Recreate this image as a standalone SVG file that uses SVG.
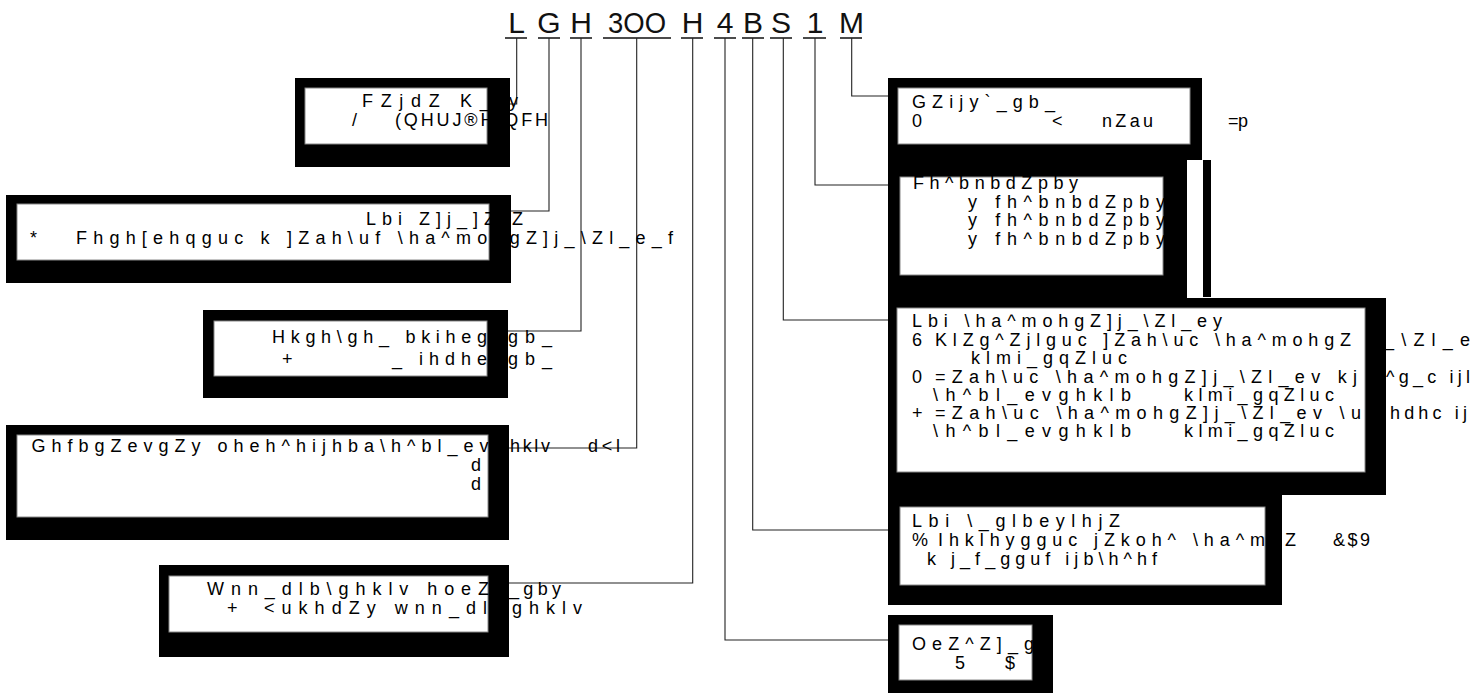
<svg xmlns="http://www.w3.org/2000/svg" width="1476" height="697" viewBox="0 0 1476 697">
<style>
.bg{fill:#000}
.in{fill:#fff;stroke:#888;stroke-width:1}
.t{font-family:"Liberation Sans Narrow","Liberation Sans",Arial,sans-serif;font-size:18px;fill:#000}
.h{font-family:"Liberation Sans Narrow","Liberation Sans",Arial,sans-serif;font-size:30px;fill:#111;text-anchor:middle}
.u{stroke:#111;stroke-width:1.4;fill:none}
.c{stroke:#222;stroke-width:1.1;fill:none}
</style>
<rect width="1476" height="697" fill="#fff"/>
<g id="header">
<text class="h" x="516.5" y="33">L</text>
<text class="h" x="549" y="33">G</text>
<text class="h" x="581" y="33">H</text>
<text class="h" x="637" y="33" textLength="58" lengthAdjust="spacingAndGlyphs">3OO</text>
<text class="h" x="692.5" y="33">H</text>
<text class="h" x="725" y="33">4</text>
<text class="h" x="753" y="33">B</text>
<text class="h" x="781" y="33">S</text>
<text class="h" x="815" y="33">1</text>
<text class="h" x="851.5" y="33">M</text>
<path class="u" d="M505 38H527M538 38H560M570 38H592M603 38H671M681 38H703M714 38H736M742 38H764M770 38H792M803 38H826M840 38H862"/>
</g>
<g id="connectors">
<path class="c" d="M516.7 38V104H510"/>
<path class="c" d="M549 38V211H511"/>
<path class="c" d="M581 38V331H508"/>
<path class="c" d="M636.7 38V448H509"/>
<path class="c" d="M692.7 38V583H509"/>
<path class="c" d="M725 38V640H888"/>
<path class="c" d="M752.7 38V530H888"/>
<path class="c" d="M783.3 38V320H888"/>
<path class="c" d="M815 38V185H888"/>
<path class="c" d="M851.7 38V96H888"/>
</g>
<g id="box-L">
<rect class="bg" x="295" y="78" width="215" height="89"/>
<rect class="in" x="305" y="88" width="182" height="56"/>
<text class="t" x="362" y="107" textLength="156" lengthAdjust="spacing">FZjdZ K_jy</text>
<text class="t" x="352" y="126">/</text>
<text class="t" x="395" y="126" textLength="153" lengthAdjust="spacing">(QHUJ®H QFH</text>
</g>
<g id="box-G">
<rect class="bg" x="6" y="195" width="505" height="88"/>
<rect class="in" x="17" y="204" width="472" height="56"/>
<text class="t" x="366" y="225" textLength="157" lengthAdjust="spacing">Lbi Z]j_]Z Z</text>
<text class="t" x="30" y="244">*</text>
<text class="t" x="76" y="244" textLength="597" lengthAdjust="spacing">Fhgh[ehqguc k ]Zah\uf \ha^mohgZ]j_\Zl_e_f</text>
</g>
<g id="box-H">
<rect class="bg" x="203" y="310" width="305" height="88"/>
<rect class="in" x="214" y="321" width="273" height="55"/>
<text class="t" x="272" y="343" textLength="215" lengthAdjust="spacing">Hkgh\gh_ bkiheg</text>
<text class="t" x="508" y="343" textLength="44" lengthAdjust="spacing">gb_</text>
<text class="t" x="282" y="365">+</text>
<text class="t" x="392" y="365" textLength="95" lengthAdjust="spacing">_ ihdhe</text>
<text class="t" x="508" y="365" textLength="44" lengthAdjust="spacing">gb_</text>
</g>
<g id="box-3OO">
<rect class="bg" x="6" y="425" width="503" height="115"/>
<rect class="in" x="17" y="435" width="471" height="82"/>
<text class="t" x="31.5" y="452" textLength="457" lengthAdjust="spacing">GhfbgZevgZy oheh^hijhba\h^bl_ev</text>
<text class="t" x="510" y="452" textLength="40" lengthAdjust="spacing">hklv</text>
<text class="t" x="588" y="452" textLength="32" lengthAdjust="spacing">d&lt;l</text>
<text class="t" x="471" y="471">d</text>
<text class="t" x="471" y="490">d</text>
</g>
<g id="box-H2">
<rect class="bg" x="159" y="565" width="350" height="92"/>
<rect class="in" x="169" y="576" width="319" height="56"/>
<text class="t" x="207" y="595" textLength="295" lengthAdjust="spacing">Wnn_dlb\ghklv hoeZ`</text>
<text class="t" x="509" y="595" textLength="52" lengthAdjust="spacing">_gby</text>
<text class="t" x="227" y="614">+</text>
<text class="t" x="264" y="614" textLength="223" lengthAdjust="spacing">&lt;ukhdZy wnn_dl</text>
<text class="t" x="500" y="614" textLength="82" lengthAdjust="spacing">\ghklv</text>
</g>
<g id="box-M">
<rect class="bg" x="888" y="78" width="314" height="82"/>
<rect class="in" x="898" y="88" width="292" height="56"/>
<text class="t" x="912" y="108" textLength="143" lengthAdjust="spacing">GZijy`_gb_</text>
<text class="t" x="912" y="127">0</text>
<text class="t" x="1052" y="127">&lt;</text>
<text class="t" x="1102" y="127" textLength="51" lengthAdjust="spacing">nZau</text>
<text class="t" x="1228" y="127" textLength="20" lengthAdjust="spacing">=p</text>
</g>
<g id="box-1">
<rect class="bg" x="888" y="160" width="299" height="138"/>
<rect class="bg" x="1203" y="160" width="8" height="137"/>
<rect class="in" x="900" y="177" width="263" height="98"/>
<text class="t" x="913" y="189" textLength="165" lengthAdjust="spacing">Fh^bnbdZpby</text>
<text class="t" x="968" y="208" textLength="197" lengthAdjust="spacing">y fh^bnbdZpby</text>
<text class="t" x="968" y="226" textLength="197" lengthAdjust="spacing">y fh^bnbdZpby</text>
<text class="t" x="968" y="245" textLength="197" lengthAdjust="spacing">y fh^bnbdZpby</text>
</g>
<g id="box-S">
<rect class="bg" x="888" y="298" width="498" height="197"/>
<rect class="in" x="897" y="308" width="468" height="164"/>
<text class="t" x="912" y="327" textLength="310" lengthAdjust="spacing">Lbi \ha^mohgZ]j_\Zl_ey</text>
<text class="t" x="912" y="346">6</text>
<text class="t" x="935" y="346" textLength="416" lengthAdjust="spacing">KlZg^Zjlguc ]Zah\uc \ha^mohgZ</text>
<text class="t" x="1384" y="346" textLength="86" lengthAdjust="spacing">_\Zl_e</text>
<text class="t" x="971" y="364" textLength="156" lengthAdjust="spacing">klmi_gqZluc</text>
<text class="t" x="912" y="383">0</text>
<text class="t" x="935" y="383" textLength="422" lengthAdjust="spacing">=Zah\uc \ha^mohgZ]j_\Zl_ev kj</text>
<text class="t" x="1386" y="383" textLength="84" lengthAdjust="spacing">^g_c ijl</text>
<text class="t" x="933" y="401" textLength="198" lengthAdjust="spacing">\h^bl_evghklb</text>
<text class="t" x="1184" y="401" textLength="150" lengthAdjust="spacing">klmi_gqZluc</text>
<text class="t" x="912" y="419">+</text>
<text class="t" x="935" y="419" textLength="426" lengthAdjust="spacing">=Zah\uc \ha^mohgZ]j_\Zl_ev \u</text>
<text class="t" x="1390" y="419" textLength="77" lengthAdjust="spacing">hdhc ij</text>
<text class="t" x="933" y="437" textLength="198" lengthAdjust="spacing">\h^bl_evghklb</text>
<text class="t" x="1184" y="437" textLength="150" lengthAdjust="spacing">klmi_gqZluc</text>
</g>
<g id="box-B">
<rect class="bg" x="888" y="495" width="394" height="110"/>
<rect class="in" x="900" y="507" width="365" height="78"/>
<text class="t" x="912" y="527" textLength="208" lengthAdjust="spacing">Lbi \_glbeylhjZ</text>
<text class="t" x="912" y="546">%</text>
<text class="t" x="938" y="546" textLength="327" lengthAdjust="spacing">Ihklhygguc jZkoh^ \ha^m</text>
<text class="t" x="1285" y="546">Z</text>
<text class="t" x="1333" y="546" textLength="37" lengthAdjust="spacing">&amp;$9</text>
<text class="t" x="927" y="565" textLength="230" lengthAdjust="spacing">k j_f_gguf ijb\h^hf</text>
</g>
<g id="box-4">
<rect class="bg" x="888" y="615" width="165" height="78"/>
<rect class="in" x="899" y="625" width="133" height="55"/>
<text class="t" x="912" y="650" textLength="122" lengthAdjust="spacing">OeZ^Z]_g</text>
<text class="t" x="955" y="669">5</text>
<text class="t" x="1005" y="669">$</text>
</g>
</svg>
